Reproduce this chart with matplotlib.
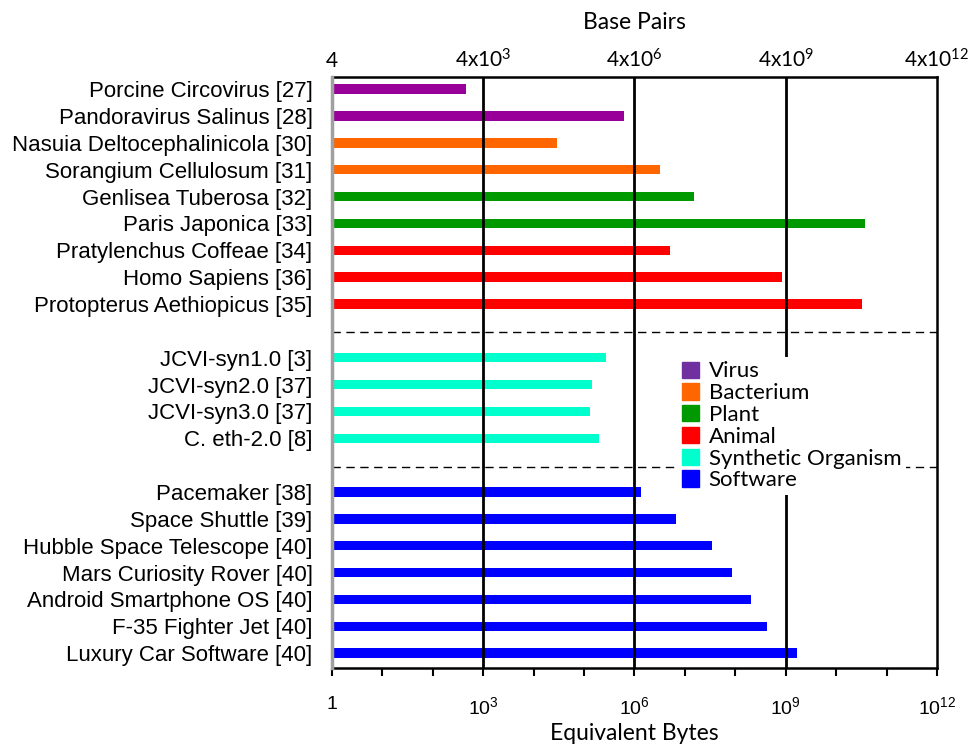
import matplotlib
matplotlib.use('Agg')
import matplotlib.pyplot as plt
from matplotlib.patches import Patch
from matplotlib.ticker import LogLocator, NullFormatter

plt.rcParams['font.family'] = ['Liberation Sans', 'DejaVu Sans']
plt.rcParams['mathtext.fontset'] = 'custom'
plt.rcParams['mathtext.rm'] = 'Liberation Sans'
plt.rcParams['mathtext.default'] = 'regular'

# organisms / software and their size in equivalent bytes
labels = [
    'Porcine Circovirus [27]', 'Pandoravirus Salinus [28]',
    'Nasuia Deltocephalinicola [30]', 'Sorangium Cellulosum [31]',
    'Genlisea Tuberosa [32]', 'Paris Japonica [33]',
    'Pratylenchus Coffeae [34]', 'Homo Sapiens [36]',
    'Protopterus Aethiopicus [35]',
    'JCVI-syn1.0 [3]', 'JCVI-syn2.0 [37]', 'JCVI-syn3.0 [37]', 'C. eth-2.0 [8]',
    'Pacemaker [38]', 'Space Shuttle [39]', 'Hubble Space Telescope [40]',
    'Mars Curiosity Rover [40]', 'Android Smartphone OS [40]',
    'F-35 Fighter Jet [40]', 'Luxury Car Software [40]',
]
sizes = [
    446, 6.2e5, 2.9e4, 3.2e6, 1.5e7, 3.7e10, 5.0e6, 8.3e8, 3.2e10,
    2.75e5, 1.45e5, 1.32e5, 1.96e5,
    1.33e6, 6.8e6, 3.4e7, 8.7e7, 2.0e8, 4.2e8, 1.65e9,
]
kinds = ['Virus'] * 2 + ['Bacterium'] * 2 + ['Plant'] * 2 + ['Animal'] * 3 + \
        ['Synthetic Organism'] * 4 + ['Software'] * 7
# rows, with an empty row between the three groups
rows = list(range(0, 9)) + list(range(10, 14)) + list(range(15, 22))

bar_colors = {'Virus': '#990099', 'Bacterium': '#ff6600', 'Plant': '#009900',
              'Animal': '#ff0000', 'Synthetic Organism': '#00ffcc',
              'Software': '#0000ff'}
legend_colors = {'Virus': '#7030a0', 'Bacterium': '#ff6600', 'Plant': '#009900',
                 'Animal': '#ff0000', 'Synthetic Organism': '#00ffcc',
                 'Software': '#0000ff'}

bottom_ticks = [1, 1e3, 1e6, 1e9, 1e12]
bottom_labels = ['1', '$10^{3}$', '$10^{6}$', '$10^{9}$', '$10^{12}$']
top_labels = ['4', '4x10$^{3}$', '4x10$^{6}$', '4x10$^{9}$', '4x10$^{12}$']

fig = plt.figure(figsize=(9.71, 7.47), dpi=100)
ax = fig.add_axes([0.3419, 0.1058, 0.6231, 0.7911])

ax.barh(rows, [s - 1 for s in sizes], left=1, height=0.35,
        color=[bar_colors[k] for k in kinds], zorder=2)
for g in bottom_ticks[1:-1]:
    ax.axvline(g, color='black', lw=2, zorder=3)
for y in [9.05, 14.05]:
    ax.axhline(y, color='black', lw=1, ls=(0, (6, 4)), zorder=1)

ax.set_xscale('log')
ax.set_xlim(1, 1e12)
ax.set_ylim(21.55, -0.45)
ax.set_xticks(bottom_ticks)
ax.set_xticklabels(bottom_labels, fontsize=14)
ax.xaxis.set_minor_locator(LogLocator(base=10, subs=(1.0,), numticks=20))
ax.xaxis.set_minor_formatter(NullFormatter())
ax.tick_params(axis='x', which='both', direction='out', length=6, width=1.5,
               pad=14, colors='black')
ax.set_yticks(rows)
ax.set_yticklabels(labels, fontsize=16)
ax.tick_params(axis='y', length=0, pad=14)
ax.set_xlabel('Equivalent Bytes', fontsize=16.5, family='Lato', labelpad=4)

for side in ['top', 'right', 'bottom']:
    ax.spines[side].set_linewidth(1.8)
    ax.spines[side].set_color('black')
ax.spines['left'].set_color('#a0a0a0')
ax.spines['left'].set_linewidth(2.5)
ax.spines['left'].set_zorder(4)

top = ax.twiny()
top.set_xscale('log')
top.set_xlim(ax.get_xlim())
top.set_xticks(bottom_ticks)
top.set_xticklabels(top_labels, fontsize=15, family='Lato')
top.xaxis.set_minor_locator(LogLocator(base=10, subs=(1.0,), numticks=20))
top.xaxis.set_minor_formatter(NullFormatter())
top.tick_params(axis='x', which='both', length=0, pad=4)
top.set_xlabel('Base Pairs', fontsize=16.5, family='Lato', labelpad=14)
for s in top.spines.values():
    s.set_visible(False)

handles = [Patch(color=legend_colors[k], label=k) for k in legend_colors]
leg = ax.legend(handles=handles, loc='upper left', bbox_to_anchor=(0.553, 0.545),
                frameon=True, facecolor='white', edgecolor='none', framealpha=1,
                prop={'family': 'Lato', 'size': 16}, handlelength=0.75,
                handleheight=0.75, handletextpad=0.45, labelspacing=0.08,
                borderpad=0.2, fancybox=False)
leg.set_zorder(5)

fig.savefig('out.png', dpi=100)
